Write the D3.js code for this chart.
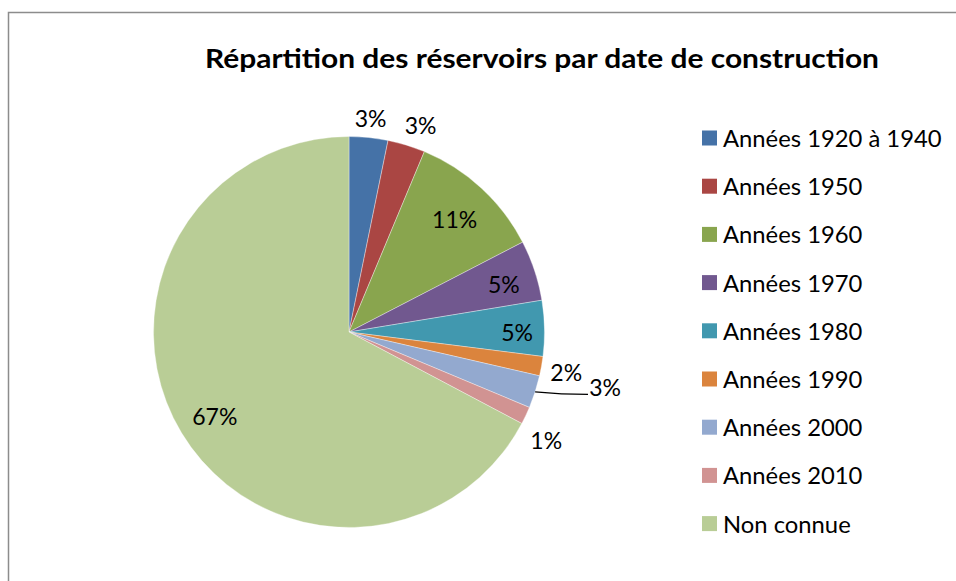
<!DOCTYPE html>
<html>
<head>
<meta charset="utf-8">
<script src="https://cdn.jsdelivr.net/npm/d3@7"></script>
<style>
  html, body { margin: 0; padding: 0; background: #fff; }
  svg { display: block; }
  text { font-family: Lato, "Open Sans", "DejaVu Sans", sans-serif; fill: #000; }
</style>
</head>
<body>
<svg id="chart" width="956" height="581"></svg>
<script>
// Share of reservoirs by construction period (percent)
const categories = [
  "Années 1920 à 1940", "Années 1950", "Années 1960", "Années 1970",
  "Années 1980", "Années 1990", "Années 2000", "Années 2010", "Non connue"
];
const shares = [3.2, 3.1, 11.1, 5.0, 4.6, 1.6, 2.7, 1.45, 67.25];
const colors = [
  "#4572A7", "#AA4643", "#89A54E", "#71588F", "#4198AF",
  "#DB843D", "#93A9CF", "#D19392", "#B9CD96"
];
const title = "Répartition des réservoirs par date de construction";

// Label placement: radius factor and angular nudge (degrees) per slice
const labelRadius = [1.10, 1.12, 0.79, 0.83, 0.86, 1.13, 1.34, 1.15, 0.81];
const labelNudge  = [0, 2, 0.5, 1, 1, 0.4, -5.6, 3.4, -1];
const leaderFor   = [false, false, false, false, false, false, true, false, false];

const svg = d3.select("#chart");
const W = 956, H = 581;

// Chart frame
svg.append("path")
  .attr("d", `M8.5,${H + 2} L8.5,12.5 L${W + 2},12.5`)
  .attr("fill", "none")
  .attr("stroke", "#8c8c8c")
  .attr("stroke-width", 1.5);

// Title
svg.append("text")
  .attr("x", 542)
  .attr("y", 68)
  .attr("text-anchor", "middle")
  .attr("font-size", 27)
  .attr("font-weight", "bold")
  .attr("textLength", 674)
  .attr("lengthAdjust", "spacingAndGlyphs")
  .text(title);

// Pie
const cx = 349, cy = 332, R = 195.5;
const g = svg.append("g").attr("transform", `translate(${cx},${cy})`);

const data = categories.map((c, i) => ({ cat: c, value: shares[i], i }));
const pie = d3.pie().value(d => d.value).sort(null);
const arcs = pie(data);
const arc = d3.arc().innerRadius(0).outerRadius(R);

g.selectAll("path.slice")
  .data(arcs)
  .enter().append("path")
  .attr("class", "slice")
  .attr("d", arc)
  .attr("fill", d => colors[d.data.i])
  .attr("stroke", "rgba(255,255,255,0.6)")
  .attr("stroke-width", 0.6);

// Percentage labels
const fmt = v => Math.round(v) + "%";
arcs.forEach(a => {
  const i = a.data.i;
  const mid = (a.startAngle + a.endAngle) / 2;
  const ang = mid + labelNudge[i] * Math.PI / 180;
  const r = R * labelRadius[i];
  const x = Math.sin(ang) * r;
  const y = -Math.cos(ang) * r;
  if (leaderFor[i]) {
    const x0 = Math.sin(mid) * R, y0 = -Math.cos(mid) * R;
    const x1 = x - 17, y1 = y + 7;
    g.append("path")
      .attr("d", `M${x0},${y0} Q${(x0 + x1) / 2},${y0 + 2.5} ${x1},${y1}`)
      .attr("fill", "none")
      .attr("stroke", "#000")
      .attr("stroke-width", 1.3);
  }
  g.append("text")
    .attr("x", x)
    .attr("y", y)
    .attr("text-anchor", "middle")
    .attr("dominant-baseline", "central")
    .attr("font-size", 23)
    .text(fmt(a.data.value));
});

// Legend
const legend = svg.append("g").attr("transform", "translate(702,138)");
const rowH = 48.2;
categories.forEach((c, i) => {
  const row = legend.append("g").attr("transform", `translate(0,${i * rowH})`);
  row.append("rect")
    .attr("x", 0).attr("y", -7.5)
    .attr("width", 15).attr("height", 15)
    .attr("fill", colors[i]);
  row.append("text")
    .attr("x", 21)
    .attr("y", 0)
    .attr("dominant-baseline", "central")
    .attr("font-size", 23.8)
    .text(c);
});
</script>
</body>
</html>
